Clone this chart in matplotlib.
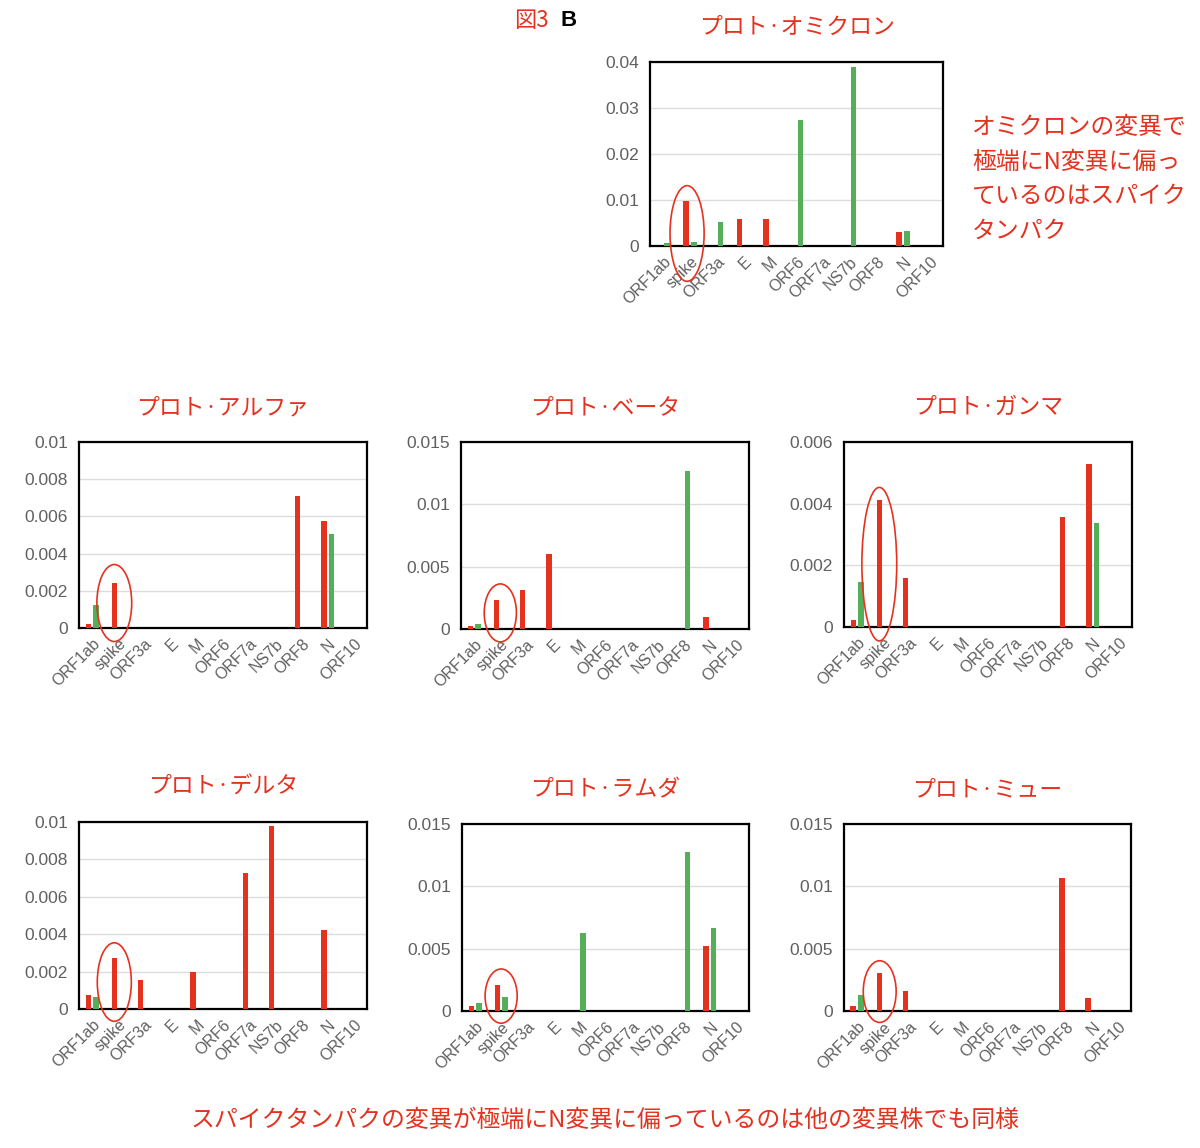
import numpy as np
import matplotlib
matplotlib.use('Agg')
import matplotlib.pyplot as plt
from matplotlib.patches import Ellipse
from matplotlib.transforms import blended_transform_factory

# genes on the x axis
genes = ['ORF1ab', 'spike', 'ORF3a', 'E', 'M', 'ORF6', 'ORF7a', 'NS7b', 'ORF8', 'N', 'ORF10']

# red / green series per variant
omicron_red = [0.0001, 0.0098, 0, 0.0059, 0.0059, 0, 0, 0, 0, 0.0030, 0]
omicron_green = [0.0007, 0.0009, 0.0052, 0, 0, 0.0273, 0, 0.0390, 0, 0.0033, 0]
alpha_red = [0.0002, 0.0024, 0, 0, 0, 0, 0, 0, 0.0071, 0.00575, 0]
alpha_green = [0.00125, 0, 0, 0, 0, 0, 0, 0, 0, 0.00505, 0]
beta_red = [0.00024, 0.0023, 0.0031, 0.0060, 0, 0, 0, 0, 0, 0.0010, 0]
beta_green = [0.00037, 0, 0, 0, 0, 0, 0, 0, 0.01267, 0, 0]
gamma_red = [0.00022, 0.00413, 0.00159, 0, 0, 0, 0, 0, 0.00357, 0.00528, 0]
gamma_green = [0.00145, 0, 0, 0, 0, 0, 0, 0, 0, 0.00337, 0]
delta_red = [0.00077, 0.00273, 0.00157, 0, 0.00198, 0, 0.00726, 0.0098, 0, 0.0042, 0]
delta_green = [0.00064, 0, 0, 0, 0, 0, 0, 0, 0, 0, 0]
lambda_red = [0.00043, 0.00206, 0, 0, 0, 0, 0, 0, 0, 0.00522, 0]
lambda_green = [0.00062, 0.00113, 0, 0, 0.00627, 0, 0, 0, 0.01273, 0.0067, 0]
mu_red = [0.00038, 0.00305, 0.00158, 0, 0, 0, 0, 0, 0.01064, 0.00107, 0]
mu_green = [0.00126, 0, 0, 0, 0, 0, 0, 0, 0, 0, 0]

titles = ['プロト·オミクロン', 'プロト·アルファ', 'プロト·ベータ', 'プロト·ガンマ',
          'プロト·デルタ', 'プロト·ラムダ', 'プロト·ミュー']
ymax = [0.04, 0.01, 0.015, 0.006, 0.01, 0.015, 0.015]
ystep = [0.01, 0.002, 0.005, 0.002, 0.002, 0.005, 0.005]

side_note = 'オミクロンの変異で\n極端にN変異に偏っ\nているのはスパイク\nタンパク'
bottom_note = 'スパイクタンパクの変異が極端にN変異に偏っているのは他の変異株でも同様'

RED = '#E5321F'
GREEN = '#55AE5A'
GRAY = '#606060'
JP = ['Noto Sans CJK JP', 'DejaVu Sans']

# axes boxes [left, bottom, width, height] in figure fraction
boxes = [
    [0.5417, 0.7857, 0.2442, 0.1603],
    [0.0658, 0.4530, 0.2400, 0.1620],
    [0.3842, 0.4521, 0.2400, 0.1629],
    [0.7033, 0.4538, 0.2400, 0.1611],
    [0.0658, 0.1211, 0.2400, 0.1629],
    [0.3850, 0.1193, 0.2392, 0.1629],
    [0.7033, 0.1193, 0.2392, 0.1629],
]
# spike ellipse: x centre (data), y centre (axes frac), width (data), height (axes frac)
rings = [
    (0.89, 0.068, 1.28, 0.52),
    (0.85, 0.134, 1.33, 0.414),
    (1.0, 0.086, 1.23, 0.31),
    (0.85, 0.34, 1.33, 0.83),
    (0.85, 0.144, 1.30, 0.42),
    (1.0, 0.08, 1.23, 0.29),
    (0.87, 0.104, 1.26, 0.33),
]

series = [(omicron_red, omicron_green), (alpha_red, alpha_green), (beta_red, beta_green),
          (gamma_red, gamma_green), (delta_red, delta_green), (lambda_red, lambda_green),
          (mu_red, mu_green)]

fig = plt.figure(figsize=(12, 11.48), dpi=100)
x = np.arange(len(genes))

for i, (red, green) in enumerate(series):
    ax = fig.add_axes(boxes[i])
    ax.bar(x - 0.145, red, width=0.21, color=RED, zorder=3)
    ax.bar(x + 0.145, green, width=0.21, color=GREEN, zorder=3)
    ax.set_xlim(-0.5, len(genes) - 0.5)
    ax.set_ylim(0, ymax[i])
    ticks = np.round(np.arange(0, ymax[i] + ystep[i] / 2, ystep[i]), 4)
    ax.set_yticks(ticks)
    ax.set_yticklabels([f'{t:g}' for t in ticks], fontsize=12.5, color=GRAY, family='Liberation Sans')
    ax.set_xticks(x)
    ax.set_xticklabels(genes, rotation=45, ha='right', va='top', rotation_mode='anchor',
                       fontsize=11.5, color=GRAY, family='Liberation Sans')
    ax.tick_params(axis='both', length=0)
    ax.tick_params(axis='y', pad=8)
    ax.tick_params(axis='x', pad=6)
    ax.grid(axis='y', color='#dcdcdc', linewidth=1, zorder=0)
    for s in ax.spines.values():
        s.set_linewidth(1.6)
        s.set_color('black')
    ax.set_title(titles[i], color=RED, fontsize=16.5, family=JP, pad=20)
    cx, cy, w, h = rings[i]
    tr = blended_transform_factory(ax.transData, ax.transAxes)
    ax.add_patch(Ellipse((cx, cy), w, h, transform=tr, fill=False, edgecolor=RED,
                         linewidth=1.2, clip_on=False, zorder=5))

fig.text(0.428, 0.982, '図3', color=RED, fontsize=16, family=JP, va='center')
fig.text(0.467, 0.982, 'B', color='black', fontsize=16, fontweight='bold',
         family='Liberation Sans', va='center')
fig.text(0.810, 0.899, side_note, color=RED, fontsize=17.2, family=JP, va='top',
         linespacing=1.64)
fig.text(0.504, 0.024, bottom_note, color=RED, fontsize=17.2, family=JP,
         ha='center', va='center')

fig.savefig('out.png', dpi=100, facecolor='white')
